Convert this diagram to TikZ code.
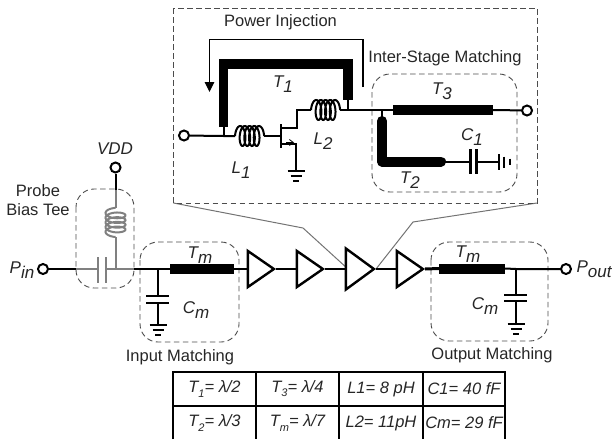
\documentclass[tikz,border=0pt]{standalone}
\usepackage{fontspec}
\setmainfont{Liberation Sans}
\usetikzlibrary{shapes.geometric,arrows.meta,calc}
\newcommand{\lab}[2]{\textit{#1\raisebox{-.3em}{#2}}}
\newcommand{\tsub}[2]{\textit{#1\raisebox{-.25em}{\fontsize{11}{11}\selectfont #2}}}
\tikzset{
  txt/.style={font=\fontsize{16.5}{18}\selectfont,text=black!85,inner sep=0pt},
  ital/.style={font=\fontsize{17}{18}\selectfont\itshape,text=black!85,inner sep=0pt},
  cell/.style={font=\fontsize{16.5}{18}\selectfont\itshape,text=black!85,inner sep=0pt},
  wire/.style={line width=2pt,black,line cap=butt},
  graywire/.style={line width=2pt,black!50},
  term/.style={circle,draw=black,line width=2pt,fill=white,inner sep=0pt,minimum size=10pt},
  tline/.style={rectangle,fill=black,inner sep=0pt},
  dbox/.style={draw=black!70,line width=0.9pt,dash pattern=on 5.5pt off 3.5pt,rounded corners=18pt},
  callout/.style={draw=black!55,line width=1pt},
  amp/.style={isosceles triangle,isosceles triangle apex angle=70,isosceles triangle stretches,draw=black,line width=2.4pt,fill=white,inner sep=0pt,minimum width=36pt,minimum height=26pt,anchor=apex},
  coilsym/.pic={
    \draw[line width=2pt] plot[smooth,domain=0:1620,samples=130] ({4.7*\x/360-4*cos(\x)+4},{-10*sin(\x)});
  },
  gndsym/.pic={
    \draw[line width=2.2pt] (-8.5,0) -- (8.5,0);
    \draw[line width=2.2pt] (-5.5,5) -- (5.5,5);
    \draw[line width=2.6pt] (-2.8,10) -- (2.8,10);
  },
}
\begin{document}
\begin{tikzpicture}[x=1pt,y=-1pt]
\useasboundingbox (0,0) rectangle (612,439);
% callout lines
\coordinate (bigBL) at (173.5,203);
\coordinate (bigBR) at (537,203);
\coordinate (calL) at (303,228);
\coordinate (calR) at (413,222);
\coordinate (ampTop) at (348,269);
\coordinate (ampApex) at (376,269);
\draw[callout] (bigBL) -- (calL) -- (ampTop);
\draw[callout] (bigBR) -- (calR) -- (ampApex);
% big box
\draw[draw=black!70,line width=0.9pt,dash pattern=on 5.5pt off 3.5pt] (173.5,8) rectangle (537,203);
% inter-stage box and matching boxes
\draw[dbox] (372,74) rectangle (517,192);
\draw[dbox] (76,189) rectangle (134,288);
\draw[dbox] (140,242) rectangle (239,342);
\draw[dbox] (431,242) rectangle (548,341);
% ---- Inset circuit
\node[term] (inT) at (184,135.5) {};
\coordinate (t1a) at (223.5,136);
\coordinate (l1a) at (235,136);
\coordinate (l1b) at (264,136);
\coordinate (gate) at (280.5,136);
\draw[wire] (inT) -- (t1a) -- (l1a);
\draw[line width=2.8pt] (205,136) -- (227,136);
\pic at (l1a) {coilsym};
\draw[wire] (l1b) -- (gate);
\draw[line width=2.8pt] (281,124) -- (281,148);
\coordinate (drain) at (297,128);
\coordinate (drainUp) at (297,110);
\coordinate (l2a) at (311,110);
\coordinate (l2b) at (340,110);
\draw[wire] (282,128) -- (drain) -- (drainUp) -- (l2a);
\pic at (l2a) {coilsym};
\coordinate (src) at (296,144);
\coordinate (srcG) at (296,171);
\draw[wire] (282,144) -- (src) -- (srcG);
\draw[line width=0.8pt,-{Straight Barb[length=4pt,width=6pt]}] (286,142.5) -- (294,142.5);
\pic at (srcG) {gndsym};
% T1
\coordinate (t1b) at (348,110);
\draw[line width=9.8pt,miter limit=10,line join=miter] (223.5,127) -- (223.5,64) -- (348,64) -- (348,100);
\draw[wire] (223.5,127) -- (t1a);
\draw[wire] (348,100) -- (t1b);
% right part
\node[tline,minimum width=100pt,minimum height=10.5pt] (T3) at (443,110) {};
\node[term] (outT) at (527,110.5) {};
\draw[wire] (l2b) -- (t1b) -- (T3.west);
\draw[wire] (T3.east) -- (outT);
\coordinate (t2t) at (382,110);
\draw[wire] (t2t) -- (382,118);
\draw[line width=10pt,line cap=round,line join=round] (382,121) -- (382,161.5) -- (441,161.5);
\coordinate (c1a) at (470.5,162);
\coordinate (c1b) at (476.5,162);
\coordinate (g1) at (499,162);
\draw[wire] (441,162) -- (c1a);
\draw[line width=2.8pt] (470.5,149) -- (470.5,174);
\draw[line width=2.8pt] (476.5,149) -- (476.5,174);
\draw[wire] (c1b) -- (g1);
\draw[line width=2.2pt] (499,154) -- (499,170);
\draw[line width=2.2pt] (504,156.5) -- (504,167.5);
\draw[line width=2.8pt] (510,158.5) -- (510,165);
% Power injection arrow
\coordinate (pA) at (363,87);
\coordinate (pB) at (363,39.5);
\coordinate (pC) at (209.5,39.5);
\coordinate (pD) at (209.5,92);
\draw[line width=1.1pt,-{Triangle[length=10pt,width=9.5pt]}] (pA) -- (pB) -- (pC) -- (pD);
% ---- Main chain
\node[term] (pin) at (43,269) {};
\node[term] (vdd) at (115.5,167.5) {};
\coordinate (teeL) at (76,269);
\coordinate (capA) at (98,269);
\coordinate (capB) at (106,269);
\coordinate (teeJ) at (115.5,269);
\coordinate (teeR) at (134,269);
\coordinate (boxTop) at (115.5,190);
\coordinate (coilT) at (115.5,208);
\coordinate (coilB) at (115.5,237);
\draw[wire] (pin) -- (teeL);
\draw[graywire] (teeL) -- (capA);
\draw[line width=2.8pt,black!50] (98,257) -- (98,283);
\draw[line width=2.8pt,black!50] (106,257) -- (106,283);
\draw[graywire] (capB) -- (teeR);
\draw[graywire] (teeJ) -- (coilB);
\pic[black!50,rotate=90] at (coilB) {coilsym};
\draw[graywire] (coilT) -- (boxTop);
\draw[wire] (boxTop) -- (vdd);
% input matching
\node[tline,minimum width=64pt,minimum height=10pt] (Tm1) at (202,269) {};
\coordinate (cmJ) at (158,269);
\draw[wire] (teeR) -- (cmJ) -- (Tm1.west);
\coordinate (cmA) at (158,296);
\coordinate (cmB) at (158,303);
\coordinate (cmG) at (158,325);
\draw[wire] (cmJ) -- (cmA);
\draw[line width=2.4pt] (146,296) -- (169,296);
\draw[line width=2.4pt] (146,303) -- (169,303);
\draw[wire] (cmB) -- (cmG);
\pic at (cmG) {gndsym};
% amplifiers
\node[amp] (a1) at (276,269) {};
\node[amp] (a2) at (325,269) {};
\node[amp,minimum width=41pt,minimum height=28pt] (a3) at (376,269) {};
\node[amp] (a4) at (425,269) {};
\draw[wire] (Tm1.east) -- (a1.lower side);
\draw[wire] (a1.apex) -- (a2.lower side);
\draw[wire] (a2.apex) -- (a3.lower side);
\draw[wire] (a3.apex) -- (a4.lower side);
% output matching
\node[tline,minimum width=66pt,minimum height=10pt] (Tm2) at (472,268.5) {};
\node[term] (pout) at (566,269) {};
\coordinate (cmJ2) at (516,269);
\draw[line width=3pt] (a4.apex) -- (Tm2.west);
\draw[wire] (Tm2.east) -- (cmJ2) -- (pout);
\coordinate (cmA2) at (516,295);
\coordinate (cmB2) at (516,301);
\coordinate (cmG2) at (516,324);
\draw[wire] (cmJ2) -- (cmA2);
\draw[line width=2.4pt] (504,295) -- (527,295);
\draw[line width=2.4pt] (504,301) -- (527,301);
\draw[wire] (cmB2) -- (cmG2);
\pic at (cmG2) {gndsym};
% ---- Labels
\node[txt] (lPI) at (280.5,22) {Power Injection};
\node[txt] (lIS) at (445,58) {Inter-Stage Matching};
\node[ital] (lT1) at (283,84) {\lab{T}{1}};
\node[ital] (lL1) at (241,170) {\lab{L}{1}};
\node[ital] (lL2) at (323,141.5) {\lab{L}{2}};
\node[ital] (lT3) at (442,91) {\lab{T}{3}};
\node[ital] (lC1) at (472,137) {\lab{C}{1}};
\node[ital] (lT2) at (410,180) {\lab{T}{2}};
\node[ital] (lVDD) at (115,149) {VDD};
\node[txt,align=center] (lPB) at (38,200) {Probe\\[1pt]Bias Tee};
\node[ital] (lPin) at (22,270) {\lab{P}{in}};
\node[ital] (lPout) at (594,269) {\lab{P}{out}};
\node[ital] (lTm1) at (200,255.5) {\lab{T}{m}};
\node[ital] (lCm1) at (196,310) {\lab{C}{m}};
\node[ital] (lTm2) at (468,254) {\lab{T}{m}};
\node[ital] (lCm2) at (485,306.5) {\lab{C}{m}};
\node[txt] (lIM) at (180,357) {Input Matching};
\node[txt] (lOM) at (492,355) {Output Matching};
% ---- Table
\draw[line width=1.5pt,black] (173,439) -- (173,372) -- (505,372) -- (505,439);
\draw[line width=1.5pt,black] (173,406) -- (505,406);
\draw[line width=1.5pt,black] (256,372) -- (256,439);
\draw[line width=1.5pt,black] (339,372) -- (339,439);
\draw[line width=1.5pt,black] (423,372) -- (423,439);
\node[cell] (c11) at (214.5,389) {\tsub{T}{1}= λ/2};
\node[cell] (c12) at (297.5,389) {\tsub{T}{3}= λ/4};
\node[cell] (c13) at (381,389) {L1= 8 pH};
\node[cell] (c14) at (464,389) {C1= 40 fF};
\node[cell] (c21) at (214.5,423) {\tsub{T}{2}= λ/3};
\node[cell] (c22) at (297.5,423) {\tsub{T}{m}= λ/7};
\node[cell] (c23) at (381,423) {L2= 11pH};
\node[cell] (c24) at (464,423) {Cm= 29 fF};
\end{tikzpicture}
\end{document}
